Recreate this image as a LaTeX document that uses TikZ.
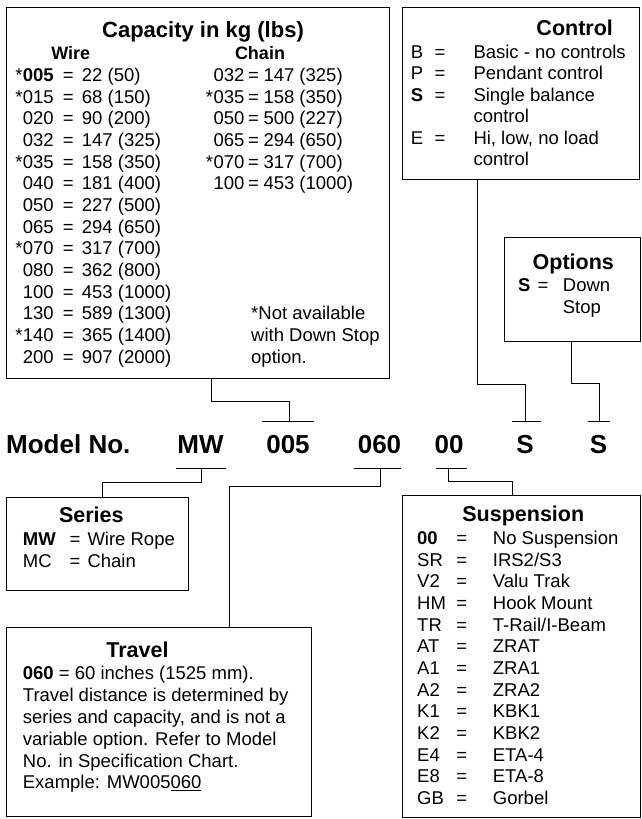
\documentclass[tikz,border=0pt]{standalone}
\usepackage{fontspec}
\setmainfont{Liberation Sans}
\usetikzlibrary{positioning,calc}
\tikzset{
	box/.style={draw, line width=1pt, rectangle, inner sep=0pt, outer sep=0pt, anchor=north west},
	link/.style={line width=0.9pt},
	ttl/.style={font=\fontsize{21.5}{24}\selectfont\bfseries, anchor=base, inner sep=0pt},
	hd/.style={font=\fontsize{18}{21}\selectfont\bfseries, anchor=base, inner sep=0pt},
	txt/.style={font=\fontsize{18.5}{21.7}\selectfont, anchor=base west, inner sep=0pt},
	eq/.style={txt, anchor=base},
	star/.style={txt, anchor=base east},
	code/.style={font=\fontsize{26}{30}\selectfont\bfseries, anchor=base, inner sep=0pt}
}
\begin{document}
\begin{tikzpicture}[x=1pt,y=-1pt]
	\useasboundingbox (0,0) rectangle (642,819);
	% boxes
	\node[box, minimum width=383pt, minimum height=371.5pt] (cap) at (6,7) {};
	\node[box, minimum width=237pt, minimum height=172.2pt] (ctrl) at (402,7.3) {};
	\node[box, minimum width=136.2pt, minimum height=103.7pt] (opt) at (504.3,237.3) {};
	\node[box, minimum width=182.3pt, minimum height=93.4pt] (ser) at (6,497.3) {};
	\node[box, minimum width=305.7pt, minimum height=189.4pt] (trav) at (6,627.3) {};
	\node[box, minimum width=237.8pt, minimum height=322pt] (susp) at (402.7,495.5) {};
	
	% capacity
	\node[ttl, font=\fontsize{22}{26}\selectfont\bfseries] (captitle) at (203,37.2) {Capacity in kg (lbs)};
	\node[hd] (wire) at (70.8,59.2) {Wire};
	\node[hd] (chain) at (260,59.2) {Chain};
	\foreach \st/\cd/\vl [count=\i from 0] in {*/\textbf{005}/22 (50), */015/68 (150), {}/020/90 (200),
		{}/032/147 (325), */035/158 (350), {}/040/181 (400), {}/050/227 (500), {}/065/294 (650),
		*/070/317 (700), {}/080/362 (800), {}/100/453 (1000), {}/130/589 (1300), */140/365 (1400),
		{}/200/907 (2000)}{
		\node[star] at (22.7,81.5+21.67*\i) {\st};
		\node[txt] at (22.7,81.5+21.67*\i) {\cd};
		\node[eq] at (68.3,81.5+21.67*\i) {=};
		\node[txt] at (81.7,81.5+21.67*\i) {\vl};
	}
	\foreach \st/\cd/\vl [count=\i from 0] in {{}/032/147 (325), */035/158 (350), {}/050/500 (227),
		{}/065/294 (650), */070/317 (700), {}/100/453 (1000)}{
		\node[star] at (213.3,81.5+21.67*\i) {\st};
		\node[txt] at (213.3,81.5+21.67*\i) {\cd};
		\node[eq] at (253.5,81.5+21.67*\i) {=};
		\node[txt] at (263.3,81.5+21.67*\i) {\vl};
	}
	\node[txt] (note1) at (251,319.9) {*Not available};
	\node[txt] (note2) at (251,341.5) {with Down Stop};
	\node[txt] (note3) at (251,363.2) {option.};
	
	% control
	\node[ttl] (ctrltitle) at (574.7,35.7) {Control};
	\foreach \ky/\vl [count=\i from 0] in {B/Basic - no controls, P/Pendant control,
		\textbf{S}/Single balance, {}/control, E/{Hi, low, no load}, {}/control}{
		\node[txt] at (410.7,58.2+21.5*\i) {\ky};
		\node[txt] at (473.3,58.2+21.5*\i) {\vl};
	}
	\foreach \i in {0,1,2,4}
		\node[eq] at (440,58.2+21.5*\i) {=};
	
	% options
	\node[ttl] (opttitle) at (573.3,269.4) {Options};
	\node[txt] (optkey) at (518,291.5) {\textbf{S}};
	\node[eq] at (543,291.5) {=};
	\node[txt] (optval) at (562.7,291.5) {Down};
	\node[txt] at (562.7,313.6) {Stop};
	
	% model number
	\node[code, anchor=base west] (model) at (6,453) {Model No.};
	\node[code] (mw) at (200.5,453) {MW};
	\node[code] (c005) at (288,453) {005};
	\node[code] (c060) at (379.5,453) {060};
	\node[code] (c00) at (449,453) {00};
	\node[code] (cs1) at (525,453) {S};
	\node[code] (cs2) at (598.5,453) {S};
	
	\coordinate (t005) at (289,421.7);
	\coordinate (ts1) at (525,421.7);
	\coordinate (ts2) at (599.3,421.7);
	\coordinate (bmw) at (201,468.7);
	\coordinate (b060) at (380,468.7);
	\coordinate (b00) at (448.7,468.7);
	
	\draw[link] (262,421.7) -- (314,421.7);
	\draw[link] (512,421.7) -- (541,421.7);
	\draw[link] (588,421.7) -- (610,421.7);
	\draw[link] (176,468.7) -- (226,468.7);
	\draw[link] (353.7,468.7) -- (401,468.7);
	\draw[link] (436,468.7) -- (467.3,468.7);
	
	\draw[link] (cap.south -| 211,0) -- ++(0,23.2) -| (t005);
	\draw[link] (ctrl.south -| 477.7,0) -- ++(0,204.5) -| (ts1);
	\draw[link] (opt.south -| 571.7,0) -- ++(0,42.3) -| (ts2);
	\draw[link] (bmw) -- ++(0,14) -| (ser.north -| 102,0);
	\draw[link] (b060) -- ++(0,18) -| (trav.north -| 229,0);
	\draw[link] (b00) -- ++(0,13) -| (susp.north -| 512,0);
	
	% series
	\node[ttl] (sertitle) at (91.3,522.7) {Series};
	\node[txt] at (22.7,545.8) {\textbf{MW}};
	\node[eq] at (75,545.8) {=};
	\node[txt] at (87.3,545.8) {Wire Rope};
	\node[txt] at (22.7,567.2) {MC};
	\node[eq] at (75,567.2) {=};
	\node[txt] at (87.3,567.2) {Chain};
	
	% travel
	\node[ttl] (travtitle) at (137.5,657.7) {Travel};
	\foreach \ln [count=\i from 0] in {{\textbf{060} = 60 inches (1525 mm).},
		Travel distance is determined by, {series and capacity, and is not a},
		variable option. Refer to Model, No. in Specification Chart.,
		Example: MW005\underline{060}}
		\node[txt] at (22.7,679.8+21.8*\i) {\ln};
	
	% suspension
	\node[ttl] (susptitle) at (523.3,521.7) {Suspension};
	\foreach \ky/\vl [count=\i from 0] in {\textbf{00}/No Suspension, SR/{IRS2/S3}, V2/Valu Trak,
		HM/Hook Mount, TR/{T-Rail/I-Beam}, AT/ZRAT, A1/ZRA1, A2/ZRA2, K1/KBK1, K2/KBK2,
		E4/ETA-4, E8/ETA-8, GB/Gorbel}{
		\node[txt] at (417,544.5+21.67*\i) {\ky};
		\node[eq] at (461.7,544.5+21.67*\i) {=};
		\node[txt] at (492.7,544.5+21.67*\i) {\vl};
	}
\end{tikzpicture}
\end{document}
